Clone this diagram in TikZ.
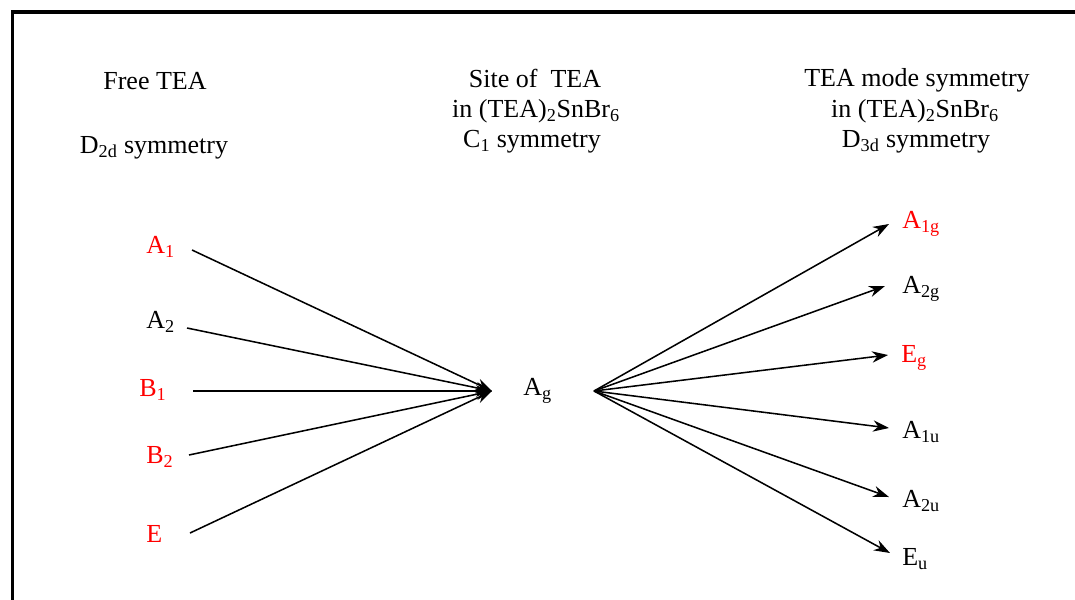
\documentclass[tikz,border=0pt]{standalone}
\usepackage{fontspec}
\setmainfont{Liberation Serif}
\usetikzlibrary{arrows.meta}
\begin{document}
\begin{tikzpicture}[x=0.75pt,y=-0.75pt,
  txt/.style={font=\fontsize{19.5}{23}\selectfont, inner sep=0pt},
  head/.style={txt, anchor=base},
  lbl/.style={txt, anchor=base west},
  hl/.style={text=red},
  conn/.style={line width=1.15pt,-{Stealth[length=12pt,width=8.5pt]}}]
\useasboundingbox (0,0) rectangle (1075,600);
\clip (0,0) rectangle (1075,600);
\draw[line width=2.3pt] (12.5,640) -- (12.5,12) -- (1100,12);

% headers
\node[head] (h1a) at (155,89) {Free TEA};
\node[head] (h1b) at (154,153) {D\textsubscript{2d} symmetry};
\node[head] (h2a) at (535,87) {Site of \ TEA};
\node[head] (h2b) at (536,117) {in (TEA)\textsubscript{2}SnBr\textsubscript{6}};
\node[head] (h2c) at (532,147) {C\textsubscript{1} symmetry};
\node[head] (h3a) at (917,86) {TEA mode symmetry};
\node[head] (h3b) at (915,117) {in (TEA)\textsubscript{2}SnBr\textsubscript{6}};
\node[head] (h3c) at (916,147) {D\textsubscript{3d} symmetry};

% left labels
\node[lbl,hl] (A1) at (146,253) {A\textsubscript{1}};
\node[lbl] (A2) at (146,328) {A\textsubscript{2}};
\node[lbl,hl] (B1) at (139,396) {B\textsubscript{1}};
\node[lbl,hl] (B2) at (146,463) {B\textsubscript{2}};
\node[lbl,hl] (E) at (146,542) {E};

% middle
\node[lbl] (Ag) at (523,395) {A\textsubscript{g}};

% right labels
\node[lbl,hl] (A1g) at (902,228) {A\textsubscript{1g}};
\node[lbl] (A2g) at (902,293) {A\textsubscript{2g}};
\node[lbl,hl] (Eg) at (901,362) {E\textsubscript{g}};
\node[lbl] (A1u) at (902,438) {A\textsubscript{1u}};
\node[lbl] (A2u) at (902,507) {A\textsubscript{2u}};
\node[lbl] (Eu) at (902,565) {E\textsubscript{u}};

% connector end points
\coordinate (s1) at (192,250);
\coordinate (s2) at (187,328);
\coordinate (s3) at (193,391);
\coordinate (s4) at (189,455);
\coordinate (s5) at (190,533);
\coordinate (sink) at (492,391);
\coordinate (src) at (594,391);
\coordinate (t1) at (889,224);
\coordinate (t2) at (885,286);
\coordinate (t3) at (888,355);
\coordinate (t4) at (889,428);
\coordinate (t5) at (889,497);
\coordinate (t6) at (890,553);

\foreach \s in {s1,s2,s3,s4,s5} \draw[conn] (\s) -- (sink);
\foreach \t in {t1,t2,t3,t4,t5,t6} \draw[conn] (src) -- (\t);
\end{tikzpicture}
\end{document}
